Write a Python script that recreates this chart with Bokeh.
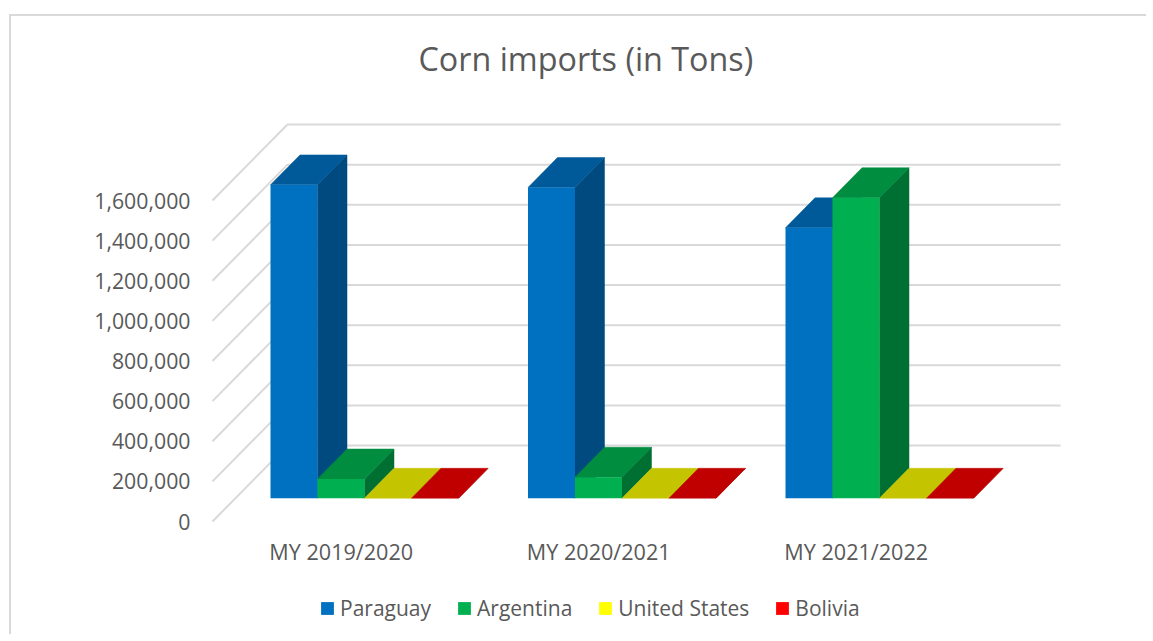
from bokeh.plotting import figure
from bokeh.models import Legend, LegendItem, FixedTicker, Range1d
from bokeh.embed import file_html
from bokeh.resources import INLINE

categories = ["MY 2019/2020", "MY 2020/2021", "MY 2021/2022"]
series = ["Paraguay", "Argentina", "United States", "Bolivia"]
paraguay = [1562000, 1549000, 1348000]
argentina = [96000, 105000, 1498000]
united_states = [0, 0, 0]
bolivia = [0, 0, 0]
values = [paraguay, argentina, united_states, bolivia]
tick_values = [0, 200000, 400000, 600000, 800000, 1000000, 1200000, 1400000, 1600000]
title_text = "Corn imports (in Tons)"

front_colors = ["#0070C0", "#00B050", "#FFFF00", "#FF0000"]
top_colors = ["#005A9A", "#008D40", "#C4C400", "#C00000"]
side_colors = ["#004A7F", "#006F32", "#A0A000", "#A00000"]

GRID = "#D9D9D9"
TEXT = "#595959"
FONT = "Open Sans"

# projection of the oblique 3-D view
PX_PER_CAT = 257.5
UNITS_PER_PX = 1600000 / 321.0
DX = 75 / PX_PER_CAT
DY = 76 * UNITS_PER_PX
BAR_W = 47 / PX_PER_CAT
GAP = 35 / PX_PER_CAT
D0, D1 = 23 / 75, 52.5 / 75
WALL_END = (1061 - 213) / PX_PER_CAT


def proj(x, v, d):
    return x + d * DX, v + d * DY


p = figure(
    width=1135, height=618,
    frame_width=855, frame_height=541,
    min_border_left=198, min_border_right=82, min_border_top=68, min_border_bottom=9,
    x_range=Range1d(-3 / PX_PER_CAT, (1065 - 213) / PX_PER_CAT),
    y_range=Range1d(-104 * UNITS_PER_PX, (521 - 84) * UNITS_PER_PX),
    output_backend="svg", toolbar_location=None,
    background_fill_color="white", border_fill_color="white",
    margin=(14, 0, 0, 9),
    styles={"border-top": "2px solid #D9D9D9", "border-left": "2px solid #D9D9D9", "box-sizing": "border-box"},
)
p.outline_line_color = None
p.grid.visible = False

p.title.text = title_text
p.title.text_font = FONT
p.title.text_font_size = "32.3px"
p.title.text_font_style = "normal"
p.title.text_color = TEXT
p.title.align = "left"
p.title.offset = 209

ya = p.yaxis[0]
ya.ticker = FixedTicker(ticks=tick_values)
ya.formatter.use_scientific = False
ya.major_label_overrides = {v: f"{v:,}" for v in tick_values}
ya.axis_line_color = None
ya.major_tick_line_color = None
ya.minor_tick_line_color = None
ya.major_tick_in = 0
ya.major_tick_out = 0
ya.major_label_standoff = 19
ya.major_label_text_font = FONT
ya.major_label_text_font_size = "21.3px"
ya.major_label_text_color = TEXT

xa = p.xaxis[0]
centers = [i + 0.5 for i in range(len(categories))]
xa.ticker = FixedTicker(ticks=centers)
xa.major_label_overrides = {c: n for c, n in zip(centers, categories)}
xa.fixed_location = -4 * UNITS_PER_PX
xa.axis_line_color = None
xa.major_tick_line_color = None
xa.minor_tick_line_color = None
xa.major_tick_in = 0
xa.major_tick_out = 0
xa.major_label_standoff = 11
xa.major_label_text_font = FONT
xa.major_label_text_font_size = "21.6px"
xa.major_label_text_color = TEXT

# wall and floor gridlines
gx, gy = [], []
for t in tick_values:
    bx, by = proj(0, t, 1)
    gx.append([0, bx, WALL_END])
    gy.append([t, by, by])
p.multi_line(gx, gy, line_color=GRID, line_width=2)

items = []
for s, name in enumerate(series):
    fx, fy, tx, ty, sx, sy = [], [], [], [], [], []
    for c in range(len(categories)):
        v = values[s][c]
        left = c + GAP + s * BAR_W
        right = left + BAR_W
        a = proj(left, 0, D0); b = proj(right, 0, D0)
        e = proj(left, v, D0); f = proj(right, v, D0)
        g = proj(left, v, D1); h = proj(right, v, D1)
        k = proj(right, 0, D1)
        fx.append([a[0], b[0], f[0], e[0]]); fy.append([a[1], b[1], f[1], e[1]])
        tx.append([e[0], f[0], h[0], g[0]]); ty.append([e[1], f[1], h[1], g[1]])
        sx.append([b[0], k[0], h[0], f[0]]); sy.append([b[1], k[1], h[1], f[1]])
    p.patches(sx, sy, fill_color=side_colors[s], line_color=side_colors[s], line_width=0.5)
    p.patches(tx, ty, fill_color=top_colors[s], line_color=top_colors[s], line_width=0.5)
    r = p.patches(fx, fy, fill_color=front_colors[s], line_color=None)
    items.append(LegendItem(label=name, renderers=[r]))

legend = Legend(
    items=items, orientation="horizontal", location=(110, 3),
    border_line_color=None, background_fill_color=None,
    label_text_font=FONT, label_text_font_size="21px", label_text_color=TEXT,
    glyph_width=16, glyph_height=16, label_standoff=5, spacing=25,
    padding=0, margin=0,
)
p.add_layout(legend, "center")

open("out.html", "w").write(file_html(p, INLINE))
